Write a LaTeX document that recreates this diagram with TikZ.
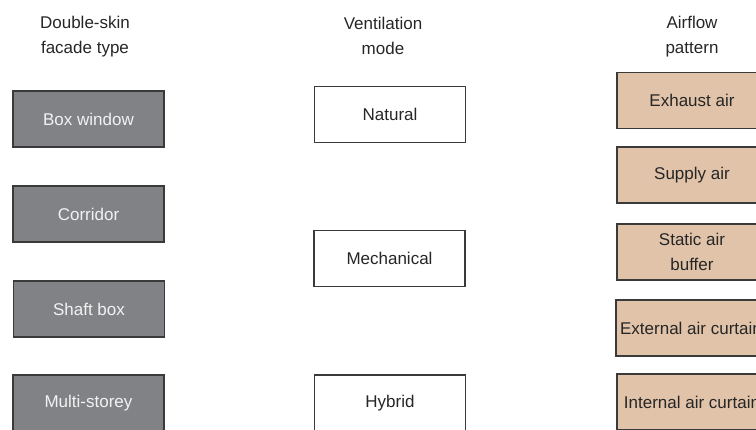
\documentclass[tikz,border=0pt]{standalone}
\usepackage{fontspec}
\setmainfont{Liberation Sans}
\usepackage{xcolor}
\usepackage{tikz}
\usetikzlibrary{positioning}

\definecolor{facadegray}{HTML}{808285}
\definecolor{flowtan}{HTML}{E1C3A9}
\definecolor{edgegray}{HTML}{3A3A3A}

\begin{document}
\begin{tikzpicture}[x=1pt, y=-1pt,
    basebox/.style={draw=edgegray, line width=1.1pt, inner sep=0pt,
        minimum width=151pt, minimum height=56pt, align=center,
        font=\fontsize{17}{25}\selectfont},
    facadebox/.style={basebox, fill=facadegray, text=white!95!black},
    modebox/.style={basebox, fill=white, text=black!85},
    flowbox/.style={basebox, fill=flowtan, text=black!85, minimum width=150pt},
    header/.style={align=center, text=black!85, font=\fontsize{17}{25}\selectfont}]
    % Frame of the picture (boxes run past its right and lower edge)
    \clip (0,0) rectangle (756,429);

    % Column headers
    \node[header] (hfacade) at (85,36.5) {Double-skin\\facade type};
    \node[header] (hmode) at (383,36) {Ventilation\\mode};
    \node[header] (hflow) at (692,37) {Airflow\\pattern};

    % Double-skin facade types
    \node[facadebox] (boxwin) at (88.5,119) {Box window};
    \node[facadebox] (corridor) at (88.5,214) {Corridor};
    \node[facadebox] (shaft) at (89,309) {Shaft box};
    \node[facadebox] (multi) at (88.5,403) {Multi-storey};

    % Ventilation modes
    \node[modebox] (natural) at (390,114.5) {Natural};
    \node[modebox] (mech) at (389.5,258.5) {Mechanical};
    \node[modebox] (hybrid) at (390,403) {Hybrid};

    % Airflow patterns
    \node[flowbox] (exhaust) at (692,100.5) {Exhaust air};
    \node[flowbox] (supply) at (692,175) {Supply air};
    \node[flowbox] (static) at (692,252) {Static air\\buffer};
    \node[flowbox] (extcurt) at (691,328) {External air curtain};
    \node[flowbox] (intcurt) at (692,402) {Internal air curtain};
\end{tikzpicture}
\end{document}
